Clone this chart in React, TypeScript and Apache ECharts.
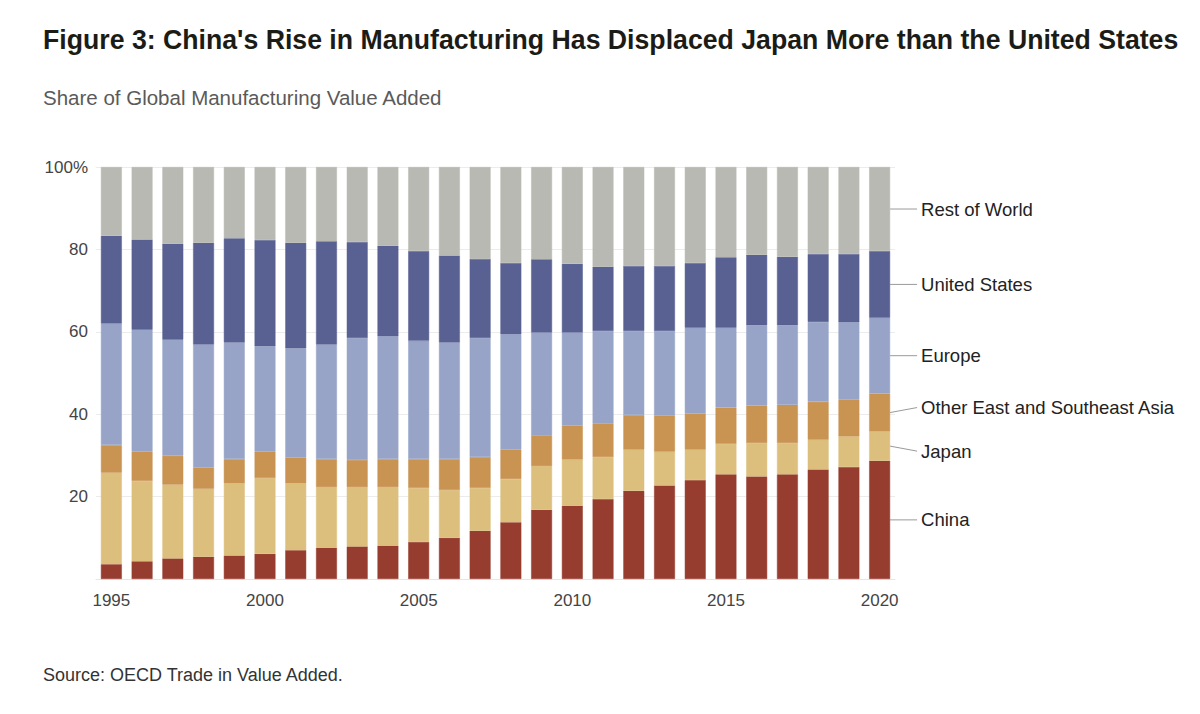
import React, { useEffect, useRef } from "react";
import * as echarts from "echarts";

// Share of global manufacturing value added, percent, by year
const years = [
  "1995", "1996", "1997", "1998", "1999", "2000", "2001", "2002", "2003",
  "2004", "2005", "2006", "2007", "2008", "2009", "2010", "2011", "2012",
  "2013", "2014", "2015", "2016", "2017", "2018", "2019", "2020",
];
const china = [
  3.6, 4.3, 5.0, 5.4, 5.7, 6.1, 7.0, 7.6, 7.9, 8.1, 9.0, 10.0, 11.7, 13.8,
  16.8, 17.8, 19.4, 21.4, 22.7, 24.0, 25.4, 24.9, 25.4, 26.6, 27.2, 28.7,
];
const japan = [
  22.2, 19.5, 17.9, 16.5, 17.5, 18.4, 16.2, 14.7, 14.4, 14.2, 13.1, 11.6,
  10.4, 10.5, 10.6, 11.2, 10.2, 10.0, 8.2, 7.4, 7.4, 8.1, 7.6, 7.2, 7.4, 7.1,
];
const otherAsia = [
  6.7, 7.1, 7.0, 5.1, 5.9, 6.4, 6.3, 6.8, 6.6, 6.8, 7.0, 7.5, 7.5, 7.1, 7.5,
  8.2, 8.2, 8.4, 8.8, 8.7, 8.8, 9.1, 9.3, 9.2, 8.9, 9.2,
];
const europe = [
  29.5, 29.6, 28.2, 29.9, 28.3, 25.6, 26.5, 27.8, 29.6, 29.8, 28.7, 28.3,
  28.9, 28.0, 24.9, 22.6, 22.4, 20.4, 20.5, 20.9, 19.4, 19.5, 19.3, 19.4,
  18.8, 18.4,
];
const unitedStates = [
  21.3, 21.9, 23.3, 24.7, 25.3, 25.8, 25.6, 25.1, 23.3, 22.0, 21.8, 21.1,
  19.2, 17.3, 17.8, 16.7, 15.6, 15.8, 15.8, 15.7, 17.1, 17.1, 16.6, 16.5,
  16.6, 16.2,
];
const restOfWorld = [
  16.7, 17.6, 18.6, 18.4, 17.3, 17.7, 18.4, 18.0, 18.2, 19.1, 20.4, 21.5,
  22.3, 23.3, 22.4, 23.5, 24.2, 24.0, 24.0, 23.3, 21.9, 21.3, 21.8, 21.1,
  21.1, 20.4,
];

const seriesDefs = [
  { name: "China", data: china, color: "#973d2f", dy: 0 },
  { name: "Japan", data: japan, color: "#dcbf7c", dy: 5 },
  { name: "Other East and Southeast Asia", data: otherAsia, color: "#c99352", dy: -5 },
  { name: "Europe", data: europe, color: "#97a4c7", dy: 0 },
  { name: "United States", data: unitedStates, color: "#596092", dy: 0 },
  { name: "Rest of World", data: restOfWorld, color: "#b8b9b2", dy: 0 },
];

const FONT = "'Liberation Sans', Arial, sans-serif";
const BAR_FRACTION = 0.68;

export default function App() {
  const ref = useRef<HTMLDivElement>(null);

  useEffect(() => {
    if (!ref.current) return;
    const chart = echarts.init(ref.current, undefined, { renderer: "svg" });

    const headerTexts = [
      {
        type: "text",
        x: 43,
        y: 39,
        scaleX: 0.953,
        style: {
          text: "Figure 3: China's Rise in Manufacturing Has Displaced Japan More than the United States",
          fontFamily: FONT,
          fontSize: 28,
          fontWeight: "bold",
          fill: "#1c1c16",
          verticalAlign: "middle",
        },
      },
      {
        type: "text",
        x: 43,
        y: 97,
        style: {
          text: "Share of Global Manufacturing Value Added",
          fontFamily: FONT,
          fontSize: 20.5,
          fill: "#5a5a5a",
          verticalAlign: "middle",
        },
      },
      {
        type: "text",
        x: 43,
        y: 675,
        style: {
          text: "Source: OECD Trade in Value Added.",
          fontFamily: FONT,
          fontSize: 18,
          fill: "#333333",
          verticalAlign: "middle",
        },
      },
    ];

    chart.setOption({
      animation: false,
      backgroundColor: "#ffffff",
      textStyle: { fontFamily: FONT },
      grid: { left: 96, right: 305, top: 167, bottom: 135, containLabel: false },
      xAxis: {
        type: "category",
        data: years,
        axisLine: { show: true, lineStyle: { color: "#e6e6e6" } },
        axisTick: { show: false },
        axisLabel: { interval: 4, color: "#444444", fontSize: 17, margin: 13, fontFamily: FONT },
      },
      yAxis: {
        type: "value",
        min: 0,
        max: 100,
        interval: 20,
        axisLine: { show: false },
        axisTick: { show: false },
        splitLine: { lineStyle: { color: "#ececec", width: 1 } },
        axisLabel: {
          color: "#444444",
          fontSize: 17,
          margin: 8,
          fontFamily: FONT,
          formatter: (v: number) => (v === 0 ? "" : v === 100 ? "100%" : String(v)),
        },
      },
      series: seriesDefs.map((s) => ({
        name: s.name,
        type: "bar",
        stack: "total",
        barCategoryGap: "32%",
        data: s.data,
        itemStyle: { color: s.color, borderColor: s.color, borderWidth: 0.5 },
      })),
    });

    // Direct labels beside the final bar, placed at each segment's midpoint
    const last = years.length - 1;
    const x0 = chart.convertToPixel({ xAxisIndex: 0 }, 0) as number;
    const x1 = chart.convertToPixel({ xAxisIndex: 0 }, 1) as number;
    const xl = chart.convertToPixel({ xAxisIndex: 0 }, last) as number;
    const barRight = xl + ((x1 - x0) * BAR_FRACTION) / 2;
    const lineEnd = barRight + 27;
    let base = 0;
    const labels: any[] = [];
    seriesDefs.forEach((s) => {
      const v = s.data[last];
      const mid = base + v / 2;
      base += v;
      const y = chart.convertToPixel({ yAxisIndex: 0 }, mid) as number;
      labels.push({
        type: "line",
        shape: { x1: barRight, y1: y, x2: lineEnd, y2: y + s.dy },
        style: { stroke: "#9a9a9a", lineWidth: 1 },
        silent: true,
      });
      labels.push({
        type: "text",
        x: lineEnd + 4,
        y: y + s.dy,
        style: {
          text: s.name,
          fontFamily: FONT,
          fontSize: 18.5,
          fill: "#222222",
          verticalAlign: "middle",
          align: "left",
        },
        silent: true,
      });
    });
    chart.setOption({ graphic: [...headerTexts, ...labels] });

    return () => chart.dispose();
  }, []);

  return (
    <div
      ref={ref}
      style={{ position: "absolute", left: 0, top: 0, width: 1200, height: 714 }}
    />
  );
}
